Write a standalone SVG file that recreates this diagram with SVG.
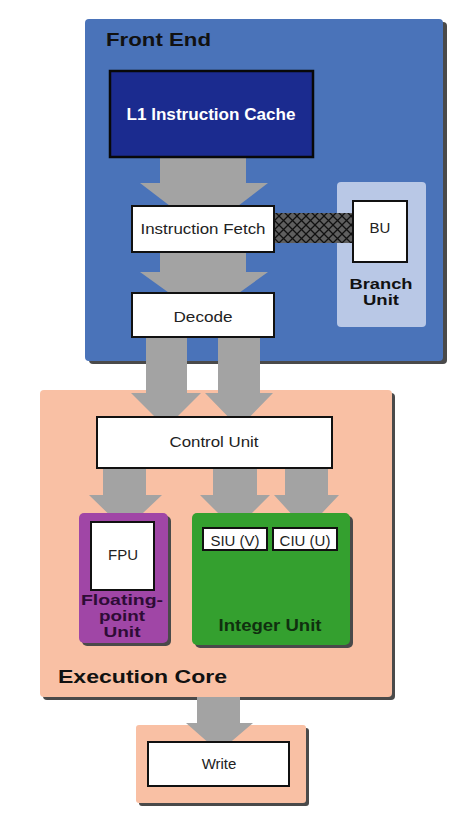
<svg xmlns="http://www.w3.org/2000/svg" width="474" height="833" viewBox="0 0 474 833">
<defs>
<style>
.shadow{fill:#4a4a4a}
.wbox{fill:#ffffff;stroke:#111;stroke-width:2}
.arrow{fill:#a3a3a3}
.lbl{font-family:"Liberation Sans",Arial,sans-serif;font-size:15px;fill:#222;text-anchor:middle}
.blbl{font-family:"Liberation Sans",Arial,sans-serif;font-weight:bold;fill:#111}
</style>
<pattern id="hatch" width="9" height="9" patternUnits="userSpaceOnUse">
<rect width="9" height="9" fill="#5f5f5f"/>
<path d="M0,0 L9,9 M9,0 L0,9" stroke="#111" stroke-width="1.3"/>
</pattern>
</defs>
<rect width="474" height="833" fill="#ffffff"/>

<g id="front-end">
<rect class="shadow" x="89" y="22" width="358" height="342" rx="4"/>
<rect x="85" y="19" width="358" height="342" rx="4" fill="#4a73b9"/>
<text class="blbl" x="106" y="46" font-size="19" textLength="105" lengthAdjust="spacingAndGlyphs">Front End</text>
</g>

<g id="branch-unit">
<rect x="337" y="182" width="89" height="145" rx="4" fill="#b9c8e6"/>
<text class="blbl" x="381" y="289" font-size="15" text-anchor="middle" textLength="63" lengthAdjust="spacingAndGlyphs">Branch</text>
<text class="blbl" x="381" y="305" font-size="15" text-anchor="middle" textLength="36" lengthAdjust="spacingAndGlyphs">Unit</text>
</g>

<g id="execution-core">
<rect class="shadow" x="43" y="393" width="352" height="307" rx="4"/>
<rect x="40" y="390" width="352" height="307" rx="4" fill="#f9c0a4"/>
<text class="blbl" x="58" y="683" font-size="19" textLength="169" lengthAdjust="spacingAndGlyphs">Execution Core</text>
</g>

<g id="write-stage">
<rect class="shadow" x="139" y="728" width="170" height="78" rx="3"/>
<rect x="136" y="725" width="170" height="78" rx="3" fill="#f9c0a4"/>
</g>

<g id="connectors">
<polygon class="arrow" points="160,157 246,157 246,183 268,183 204,232 140,183 160,183"/>
<polygon class="arrow" points="160,252 246,252 246,272 268,272 204,318 140,272 160,272"/>
<polygon class="arrow" points="146,337 187,337 187,393 201,393 166,428 131,393 146,393"/>
<polygon class="arrow" points="218,337 260,337 260,393 273,393 239,428 205,393 218,393"/>
<polygon class="arrow" points="103,468 146,468 146,495 162,495 125,530 89,495 103,495"/>
<polygon class="arrow" points="213,468 257,468 257,495 270,495 235,530 200,495 213,495"/>
<polygon class="arrow" points="285,468 328,468 328,495 339,495 306,530 274,495 285,495"/>
<polygon class="arrow" points="197,697 240,697 240,723 253,723 219,752 186,723 197,723"/>
<rect x="273" y="213" width="81" height="30" fill="url(#hatch)"/>
</g>

<g id="l1-cache">
<rect x="110" y="71" width="203" height="86" fill="#1b2b8f" stroke="#080808" stroke-width="2.5"/>
<text class="blbl" x="211" y="120" font-size="16" text-anchor="middle" style="fill:#fff" textLength="169" lengthAdjust="spacingAndGlyphs">L1 Instruction Cache</text>
</g>

<g id="instruction-fetch">
<rect class="wbox" x="132" y="206" width="142" height="46"/>
<text class="lbl" x="203" y="234" textLength="125" lengthAdjust="spacingAndGlyphs">Instruction Fetch</text>
</g>

<g id="bu">
<rect class="wbox" x="353" y="201" width="54" height="61"/>
<text class="lbl" x="380" y="233">BU</text>
</g>

<g id="decode">
<rect class="wbox" x="132" y="293" width="142" height="44"/>
<text class="lbl" x="203" y="322" textLength="59" lengthAdjust="spacingAndGlyphs">Decode</text>
</g>

<g id="control-unit">
<rect class="wbox" x="97" y="417" width="235" height="51"/>
<text class="lbl" x="214" y="447" textLength="89" lengthAdjust="spacingAndGlyphs">Control Unit</text>
</g>

<g id="floating-point-unit">
<rect class="shadow" x="82" y="516" width="89" height="130" rx="5"/>
<rect x="79" y="513" width="89" height="130" rx="5" fill="#a046a6"/>
<rect class="wbox" x="91" y="522" width="63" height="68"/>
<text class="lbl" x="123" y="560" font-size="14">FPU</text>
<text class="blbl" x="122" y="605" font-size="15" text-anchor="middle" style="fill:#2e0c36" textLength="82" lengthAdjust="spacingAndGlyphs">Floating-</text>
<text class="blbl" x="122" y="621" font-size="15" text-anchor="middle" style="fill:#2e0c36" textLength="46" lengthAdjust="spacingAndGlyphs">point</text>
<text class="blbl" x="122" y="637" font-size="15" text-anchor="middle" style="fill:#2e0c36" textLength="37" lengthAdjust="spacingAndGlyphs">Unit</text>
</g>

<g id="integer-unit">
<rect class="shadow" x="195" y="516" width="158" height="132" rx="5"/>
<rect x="192" y="513" width="158" height="132" rx="5" fill="#34a02f"/>
<text class="blbl" x="270" y="631" font-size="17" text-anchor="middle" style="fill:#10300f" textLength="103" lengthAdjust="spacingAndGlyphs">Integer Unit</text>
</g>

<g id="siu">
<rect class="wbox" x="203" y="528" width="64" height="22"/>
<text class="lbl" x="235" y="546" font-size="14">SIU (V)</text>
</g>

<g id="ciu">
<rect class="wbox" x="273" y="528" width="64" height="22"/>
<text class="lbl" x="305" y="546" font-size="14">CIU (U)</text>
</g>

<g id="write">
<rect class="wbox" x="148" y="742" width="141" height="44"/>
<text class="lbl" x="219" y="769" font-size="14">Write</text>
</g>
</svg>
